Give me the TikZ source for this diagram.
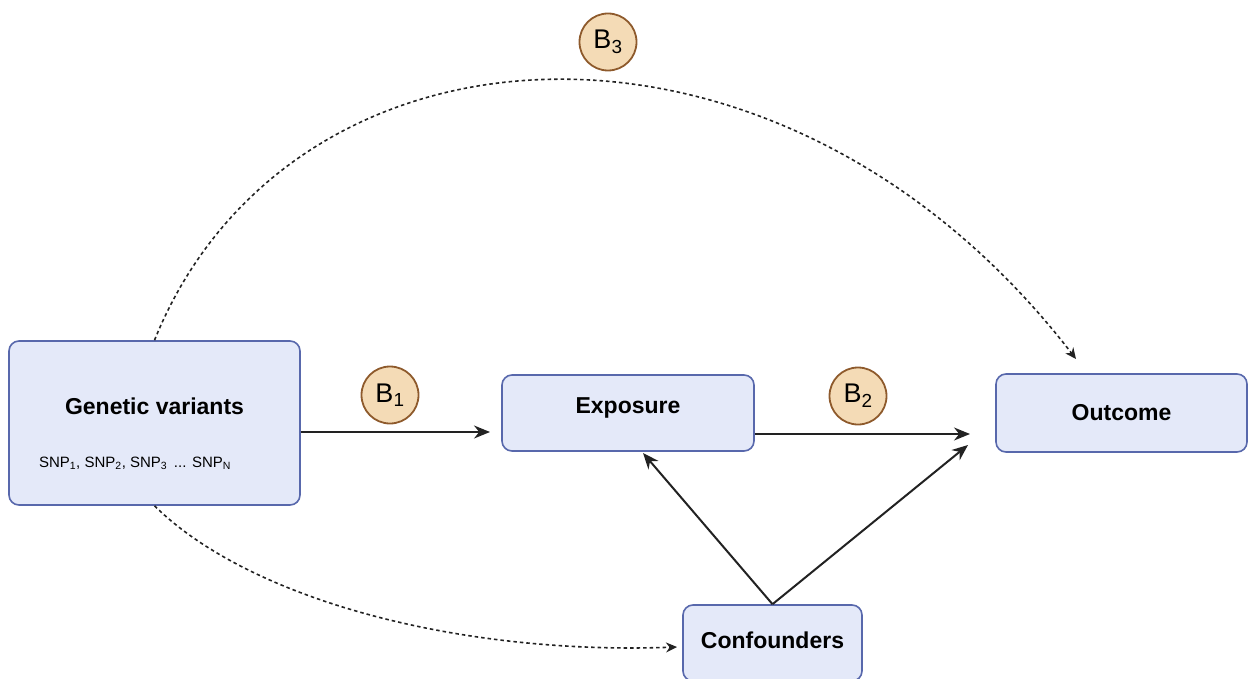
\documentclass[tikz,border=0pt]{standalone}
\usepackage{fontspec}
\setmainfont{Liberation Sans}
\usetikzlibrary{arrows.meta}
\definecolor{boxfill}{HTML}{E4E9F9}
\definecolor{boxline}{HTML}{5868AC}
\definecolor{circfill}{HTML}{F4DBB6}
\definecolor{circline}{HTML}{8E5A2C}
\definecolor{arr}{HTML}{222222}
\tikzset{
  varbox/.style={draw=boxline, fill=boxfill, line width=1.6pt, rounded corners=10pt, inner sep=0pt},
  coef/.style={circle, draw=circline, fill=circfill, line width=1.8pt, minimum size=57pt, inner sep=0pt, font=\fontsize{27}{29}\selectfont},
  solidarr/.style={draw=arr, line width=2pt, -{Stealth[length=16pt,width=13pt]}},
  dasharr/.style={draw=arr, line width=1.6pt, dash pattern=on 3.5pt off 3pt, -{Stealth[length=11pt,width=10pt]}},
  lbl/.style={font=\fontsize{23}{26}\selectfont\bfseries}
}
\begin{document}
\begin{tikzpicture}[x=1pt,y=-1pt]
\useasboundingbox (0,0) rectangle (1249,679);
% boxes
\node[varbox, minimum width=291pt, minimum height=164pt] (gen) at (154.5,423) {};
\node[lbl] (gent) at (154.5,406) {Genetic variants};
\node[font=\fontsize{15}{17}\selectfont] (snp) at (135,463) {SNP\textsubscript{1}, SNP\textsubscript{2}, SNP\textsubscript{3} \,... SNP\textsubscript{N}};
\node[varbox, minimum width=252pt, minimum height=76pt] (exp) at (628,413) {};
\node[lbl] (expt) at (628,408) {Exposure};
\node[varbox, minimum width=251pt, minimum height=78pt, lbl] (out) at (1121.5,413) {Outcome};
\node[varbox, minimum width=179pt, minimum height=76pt] (conf) at (772.5,643) {};
\node[lbl] (conft) at (772.5,640) {Confounders};
% coefficients
\node[coef] (b1) at (390,395) {B\textsubscript{1}};
\node[coef] (b2) at (858,396) {B\textsubscript{2}};
\node[coef] (b3) at (608,42) {B\textsubscript{3}};
% connectors
\coordinate (e1) at (490,432);
\coordinate (e2) at (970,434);
\coordinate (e3) at (643,453);
\coordinate (e4) at (968,445);
\coordinate (e5) at (1076,359);
\coordinate (e6) at (677,647);
\draw[solidarr] (gen.east |- e1) -- (e1);
\draw[solidarr] (exp.east |- e2) -- (e2);
\draw[solidarr] (conf.north) -- (e3);
\draw[solidarr] (conf.north) -- (e4);
\draw[dasharr] (gen.north) .. controls (290,5) and (780,-25) .. (e5);
\draw[dasharr] (gen.south) .. controls (250,600) and (460,655) .. (e6);
\end{tikzpicture}
\end{document}
